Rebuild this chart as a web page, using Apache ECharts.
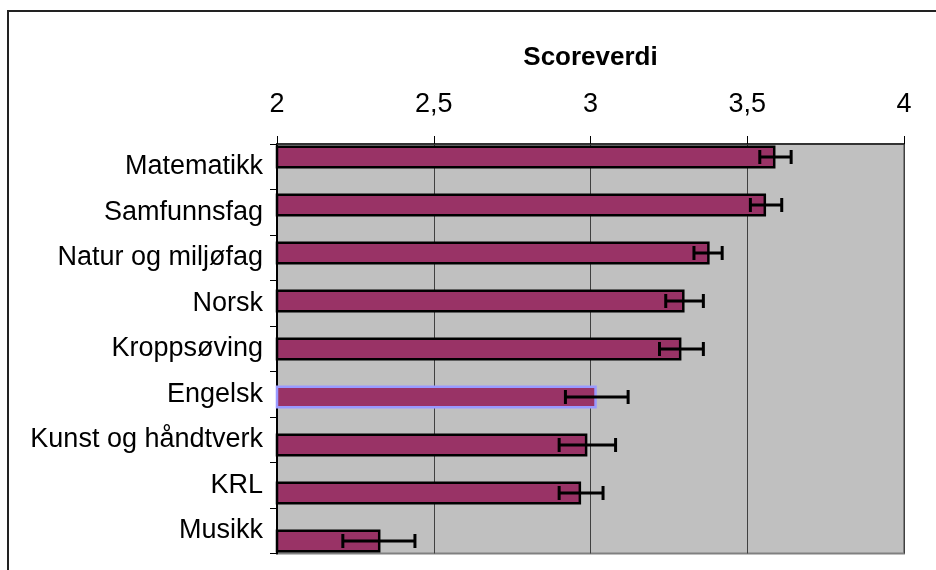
<!DOCTYPE html>
<html>
<head>
<meta charset="utf-8">
<script src="https://cdn.jsdelivr.net/npm/echarts@6/dist/echarts.min.js"></script>
<style>
html,body{margin:0;padding:0;background:#fff;}
#chart{width:936px;height:570px;}
</style>
</head>
<body>
<div id="chart"></div>
<script>
const categories = ['Matematikk','Samfunnsfag','Natur og miljøfag','Norsk','Kroppsøving','Engelsk','Kunst og håndtverk','KRL','Musikk'];
const means = [3.59, 3.56, 3.38, 3.30, 3.29, 3.02, 2.99, 2.97, 2.33];
const errLow = [3.54, 3.51, 3.33, 3.24, 3.22, 2.92, 2.90, 2.90, 2.21];
const errHigh = [3.64, 3.61, 3.42, 3.36, 3.36, 3.12, 3.08, 3.04, 2.44];
const xTicks = [2, 2.5, 3, 3.5, 4];
const axisTitle = 'Scoreverdi';
const highlighted = 'Engelsk';

const FONT = '"Liberation Sans", Arial, sans-serif';
const chart = echarts.init(document.getElementById('chart'), null, {renderer:'canvas'});

const G_LEFT = 277, G_W = 627;

const option = {
  animation: false,
  backgroundColor: '#fff',
  graphic: [
    {type:'rect', shape:{x:8, y:11, width:1000, height:1000}, style:{fill:'none', stroke:'#222', lineWidth:2}, z:-10},
    {type:'text', x: G_LEFT + G_W/2, y: 58, style:{text: axisTitle, font: 'bold 26px ' + FONT, fill:'#000', textAlign:'center', textVerticalAlign:'middle'}}
  ],
  grid: [
    {left:G_LEFT, top:144, width:G_W, height:409.5, show:true, backgroundColor:'#C0C0C0', borderColor:'#808080', borderWidth:2},
    {left:G_LEFT, top:133, width:G_W, height:432, show:false}
  ],
  xAxis: [
    {gridIndex:0, type:'value', position:'top', min:xTicks[0], max:xTicks[xTicks.length-1], interval:0.5,
     axisLine:{show:true, lineStyle:{color:'#333', width:2}},
     axisTick:{show:true, length:8, lineStyle:{color:'#000', width:1}},
     axisLabel:{color:'#000', fontSize:27, fontFamily:FONT, margin:26,
       formatter: v => String(v).replace('.', ',')},
     splitLine:{show:true, lineStyle:{color:'#404040', width:1}}},
    {gridIndex:1, type:'value', min:xTicks[0], max:xTicks[xTicks.length-1], show:false}
  ],
  yAxis: [
    {gridIndex:0, type:'category', inverse:true, data:categories,
     axisLine:{show:true, lineStyle:{color:'#000', width:2}},
     axisTick:{show:true, length:7, lineStyle:{color:'#000', width:1}},
     axisLabel:{color:'#000', fontSize:27, fontFamily:FONT, margin:14},
     splitLine:{show:false}},
    {gridIndex:1, type:'category', inverse:true, data:categories, show:false}
  ],
  series: [
    {type:'bar', xAxisIndex:1, yAxisIndex:1, barWidth:23,
     data: means.map((v,i) => ({value:v, itemStyle: categories[i]===highlighted ? {color:'#993366', borderColor:'#9999FF', borderWidth:2.5} : {color:'#993366', borderColor:'#000', borderWidth:2.5}})),
     itemStyle:{color:'#993366', borderColor:'#000', borderWidth:2.5}},
    {type:'custom', xAxisIndex:1, yAxisIndex:1, z:5,
     data: errLow.map((lo,i) => [i, lo, errHigh[i]]),
     encode:{y:0, x:[1,2]},
     renderItem: function(params, api){
       const cat = api.value(0);
       const p1 = api.coord([api.value(1), cat]);
       const p2 = api.coord([api.value(2), cat]);
       const h = 7;
       const st = {stroke:'#000', lineWidth:3};
       return {type:'group', children:[
         {type:'line', shape:{x1:p1[0], y1:p1[1], x2:p2[0], y2:p2[1]}, style:st},
         {type:'line', shape:{x1:p1[0], y1:p1[1]-h, x2:p1[0], y2:p1[1]+h}, style:st},
         {type:'line', shape:{x1:p2[0], y1:p2[1]-h, x2:p2[0], y2:p2[1]+h}, style:st}
       ]};
     }}
  ]
};
chart.setOption(option);
</script>
</body>
</html>
